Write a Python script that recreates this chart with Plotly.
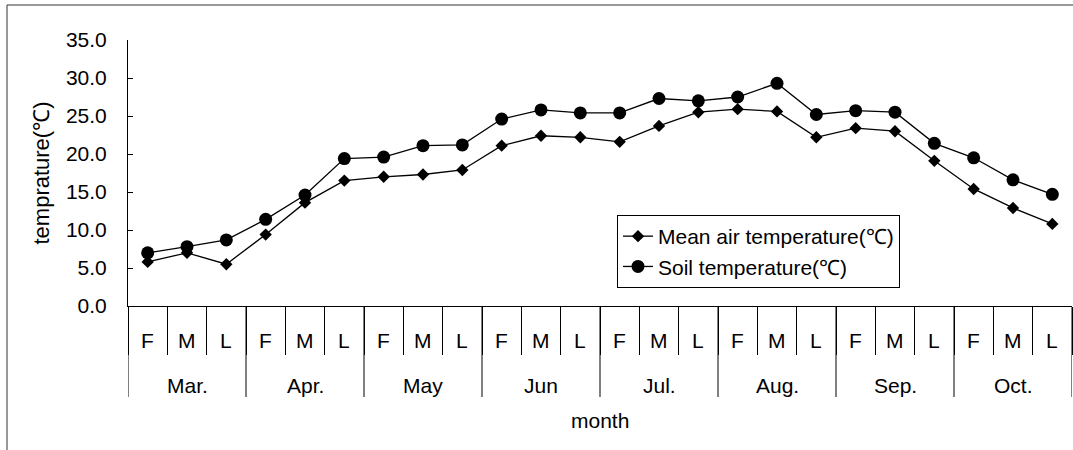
import plotly.graph_objects as go

months = ["Mar.", "Apr.", "May", "Jun", "Jul.", "Aug.", "Sep.", "Oct."]
periods = ["F", "M", "L"]
air_temp = [5.8, 7.0, 5.5, 9.4, 13.6, 16.5, 17.0, 17.3, 17.9, 21.1, 22.4, 22.2,
            21.6, 23.7, 25.5, 25.9, 25.6, 22.2, 23.4, 23.0, 19.1, 15.4, 12.9, 10.8]
soil_temp = [7.0, 7.8, 8.7, 11.4, 14.6, 19.4, 19.6, 21.1, 21.2, 24.6, 25.8, 25.4,
             25.4, 27.3, 27.0, 27.5, 29.3, 25.2, 25.7, 25.5, 21.4, 19.5, 16.6, 14.7]
y_ticks = [0, 5, 10, 15, 20, 25, 30, 35]

cats = [f"{m} {p}" for m in months for p in periods]
FONT = "Liberation Sans, Arial, sans-serif"
FS = 21

fig = go.Figure()
fig.add_trace(go.Scatter(
    x=cats, y=air_temp, mode="lines+markers", name="Mean air temperature(℃)",
    line=dict(color="black", width=1.3),
    marker=dict(symbol="diamond", size=9.5, color="black")))
fig.add_trace(go.Scatter(
    x=cats, y=soil_temp, mode="lines+markers", name="Soil temperature(℃)",
    line=dict(color="black", width=1.3),
    marker=dict(symbol="circle", size=13, color="black")))

H = 266.0  # plot height in px
W = 944.0  # plot width in px
annotations = []
for i, c in enumerate(cats):
    annotations.append(dict(x=c, xref="x", y=-34 / H, yref="paper", text=periods[i % 3],
                            showarrow=False, font=dict(size=FS, color="black", family=FONT),
                            xanchor="center", yanchor="middle"))
for m_i, m in enumerate(months):
    annotations.append(dict(x=cats[m_i * 3 + 1], xref="x", y=-79 / H, yref="paper", text=m,
                            showarrow=False, font=dict(size=FS, color="black", family=FONT),
                            xanchor="center", yanchor="middle"))
annotations.append(dict(x=0.5, xref="paper", y=-114 / H, yref="paper", text="month",
                        showarrow=False, font=dict(size=FS, color="black", family=FONT),
                        xanchor="center", yanchor="middle"))

shapes = []
for m_i in range(len(months) + 1):
    shapes.append(dict(type="line", xref="x", yref="paper", x0=m_i * 3 - 0.5, x1=m_i * 3 - 0.5,
                       y0=0, y1=-91 / H, line=dict(color="black", width=1)))
shapes.append(dict(type="rect", xref="paper", yref="paper",
                   x0=(7 - 128) / W, x1=(1085 - 128) / W,
                   y0=(306 - 455) / H, y1=(306 - 5) / H,
                   line=dict(color="#333333", width=1), fillcolor="rgba(0,0,0,0)", layer="below"))

fig.update_layout(
    width=1073, height=450,
    margin=dict(l=128, r=1, t=40, b=144),
    paper_bgcolor="white", plot_bgcolor="white",
    font=dict(family=FONT, size=FS, color="black"),
    showlegend=True,
    legend=dict(x=(617 - 128) / W, y=(306 - 215) / H, xanchor="left", yanchor="top",
                bgcolor="white", bordercolor="black", borderwidth=1,
                font=dict(size=FS, family=FONT, color="black"),
                tracegroupgap=0),
    annotations=annotations,
    shapes=shapes,
)
fig.update_xaxes(
    type="category", range=[-0.5, len(cats) - 0.5],
    showline=True, linecolor="black", linewidth=1,
    showgrid=False, zeroline=False, showticklabels=False,
    ticks="outside", tickson="boundaries", ticklen=48, tickcolor="black", tickwidth=1,
)
fig.update_yaxes(
    range=[0, 35], tickvals=y_ticks, tickformat=".1f",
    showline=True, linecolor="black", linewidth=1,
    showgrid=False, zeroline=False,
    ticks="inside", ticklen=5, tickcolor="black",
    ticklabelstandoff=16,
    tickfont=dict(size=FS, family=FONT, color="black"),
    title=dict(text="temprature(℃)", font=dict(size=22, family=FONT, color="black"), standoff=10),
)

fig.write_html("out.html", config={"displayModeBar": False},
               post_script="document.body.style.margin='0';")
